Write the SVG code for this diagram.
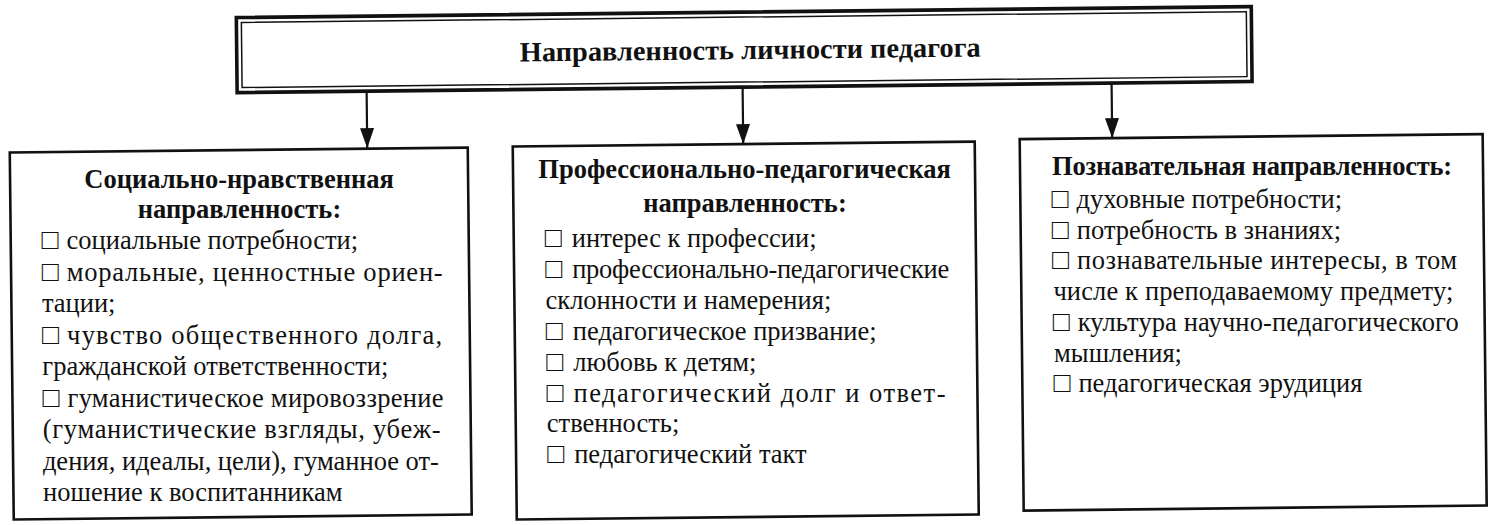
<svg xmlns="http://www.w3.org/2000/svg" width="1504" height="525" viewBox="0 0 1504 525">
<style>
  .bx { fill: #ffffff; stroke: #111111; stroke-width: 2.6; }
  .t { font-family: "Liberation Serif", "DejaVu Serif", serif; font-size: 26.5px; fill: #111111; }
  .h { font-family: "Liberation Serif", "DejaVu Serif", serif; font-size: 26.5px; font-weight: bold; fill: #111111; }
  .c { text-anchor: middle; }
  .b { font-family: "Liberation Serif", "DejaVu Serif", serif; font-size: 28px; font-weight: bold; fill: #111111; }
  .ln { stroke: #111111; stroke-width: 2.2; fill: none; }
</style>
<defs>
  <marker id="ah" markerWidth="20" markerHeight="14" refX="20" refY="7" orient="auto" markerUnits="userSpaceOnUse">
    <path d="M0,0 L20,7 L0,14 z" fill="#111111"/>
  </marker>
</defs>
<rect x="0" y="0" width="1504" height="525" fill="#ffffff"/>
<g id="root">
  <g transform="rotate(-0.62 752 262)">
    <rect x="239" y="12" width="1015" height="75" fill="#ffffff" stroke="#111111" stroke-width="3.6"/>
    <rect x="244" y="17" width="1005" height="65" fill="none" stroke="#111111" stroke-width="1.5"/>
    <text class="h c" x="752.5" y="59" style="font-size:28px" textLength="461" lengthAdjust="spacingAndGlyphs">Направленность личности педагога</text>
  </g>
</g>
<g id="connectors" transform="rotate(-0.62 752 262)">
  <line class="ln" x1="368.5" y1="88" x2="368.5" y2="144" marker-end="url(#ah)"/>
  <line class="ln" x1="744.5" y1="88" x2="744.5" y2="144" marker-end="url(#ah)"/>
  <line class="ln" x1="1113.5" y1="88" x2="1113.5" y2="142" marker-end="url(#ah)"/>
</g>
<g id="social">
  <rect class="bx" x="11" y="144.5" width="458" height="367" transform="rotate(-0.62 752 262)"/>
  <text class="h c" x="239.1" y="188">Социально-нравственная</text>
  <text class="h c" x="239.5" y="218">направленность:</text>
  <text class="b" x="41.5" y="249">□</text><text class="t" x="66.5" y="249">социальные потребности;</text>
  <text class="b" x="41.7" y="280.5">□</text><text class="t" x="66.7" y="280.5" textLength="376" lengthAdjust="spacing">моральные, ценностные ориен-</text>
  <text class="t" x="41.9" y="312">тации;</text>
  <text class="b" x="42.1" y="343.5">□</text><text class="t" x="67.1" y="343.5" textLength="375" lengthAdjust="spacing">чувство общественного долга,</text>
  <text class="t" x="42.3" y="375">гражданской ответственности;</text>
  <text class="b" x="42.5" y="406.5">□</text><text class="t" x="67.5" y="406.5" textLength="376" lengthAdjust="spacing">гуманистическое мировоззрение</text>
  <text class="t" x="42.7" y="438" textLength="398" lengthAdjust="spacing">(гуманистические взгляды, убеж-</text>
  <text class="t" x="42.9" y="469.5" textLength="396" lengthAdjust="spacing">дения, идеалы, цели), гуманное от-</text>
  <text class="t" x="43.1" y="501">ношение к воспитанникам</text>
</g>
<g id="professional">
  <rect class="bx" x="514" y="144" width="462" height="373" transform="rotate(-0.62 752 262)"/>
  <text class="h c" x="744.6" y="178">Профессионально-педагогическая</text>
  <text class="h c" x="745" y="212">направленность:</text>
  <text class="b" x="544.8" y="247">□</text><text class="t" x="571.8" y="247">интерес к профессии;</text>
  <text class="b" x="545.2" y="277.9">□</text><text class="t" x="572.2" y="277.9" textLength="377" lengthAdjust="spacing">профессионально-педагогические</text>
  <text class="t" x="545.5" y="308.8">склонности и намерения;</text>
  <text class="b" x="545.8" y="339.7">□</text><text class="t" x="572.8" y="339.7">педагогическое призвание;</text>
  <text class="b" x="546.2" y="370.6">□</text><text class="t" x="573.2" y="370.6">любовь к детям;</text>
  <text class="b" x="546.5" y="401.5">□</text><text class="t" x="573.5" y="401.5" textLength="372" lengthAdjust="spacing">педагогический долг и ответ-</text>
  <text class="t" x="546.8" y="432.4">ственность;</text>
  <text class="b" x="547.2" y="463.3">□</text><text class="t" x="574.2" y="463.3">педагогический такт</text>
</g>
<g id="cognitive">
  <rect class="bx" x="1021" y="142" width="463" height="371.5" transform="rotate(-0.62 752 262)"/>
  <text class="h" x="1052.1" y="175" textLength="400" lengthAdjust="spacing">Познавательная направленность:</text>
  <text class="b" x="1051.5" y="208">□</text><text class="t" x="1076.5" y="208">духовные потребности;</text>
  <text class="b" x="1051.8" y="238.7">□</text><text class="t" x="1076.8" y="238.7">потребность в знаниях;</text>
  <text class="b" x="1052.1" y="269.4">□</text><text class="t" x="1077.1" y="269.4" textLength="380" lengthAdjust="spacing">познавательные интересы, в том</text>
  <text class="t" x="1053.4" y="300.1" textLength="400" lengthAdjust="spacing">числе к преподаваемому предмету;</text>
  <text class="b" x="1052.7" y="330.8">□</text><text class="t" x="1077.7" y="330.8" textLength="381" lengthAdjust="spacing">культура научно-педагогического</text>
  <text class="t" x="1054.1" y="361.5">мышления;</text>
  <text class="b" x="1053.4" y="392.2">□</text><text class="t" x="1078.4" y="392.2">педагогическая эрудиция</text>
</g>
</svg>
